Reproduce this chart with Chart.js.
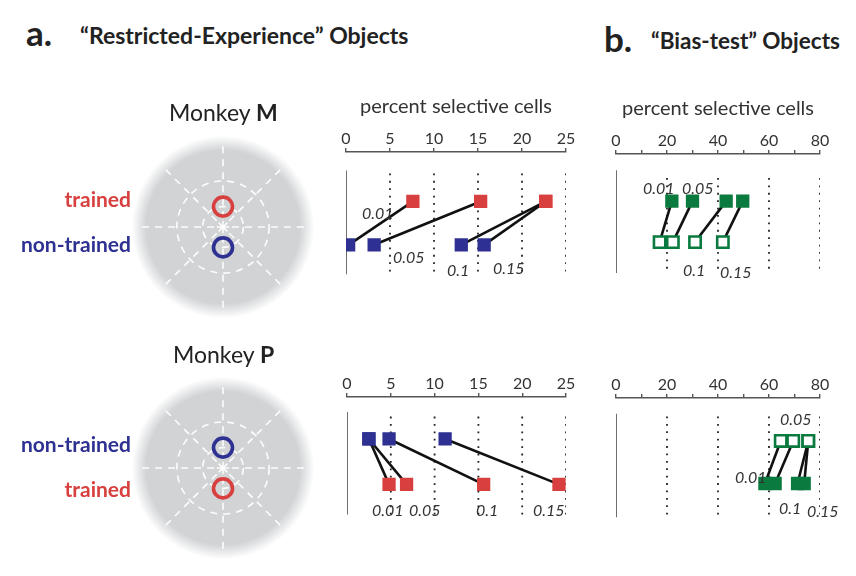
<!DOCTYPE html>
<html>
<head>
<meta charset="utf-8">
<title>Percent selective cells</title>
<script src="https://cdn.jsdelivr.net/npm/chart.js@4.4.1/dist/chart.umd.min.js"></script>
<style>
  body { margin: 0; width: 856px; height: 576px; position: relative; overflow: hidden; background: #fff; font-family: Lato, "Open Sans", sans-serif; color: #222; }
  canvas { position: absolute; }
  .t { position: absolute; white-space: nowrap; line-height: 1.2; transform: translateY(-50%); }
  .r { transform: translate(-100%, -50%); }
  .n { font-style: italic; font-size: 16px; color: #333; }
  .red { color: #d7403e; font-weight: 700; font-size: 21px; }
  .blue { color: #2e3192; font-weight: 700; font-size: 21px; }
</style>
</head>
<body>
<div class="t" style="left:26px;top:32px;font-size:35px;font-weight:700">a.</div>
<div class="t" style="left:80px;top:36px;font-size:23px;font-weight:700">“Restricted-Experience” Objects</div>
<div class="t" style="left:604px;top:38px;font-size:35px;font-weight:700">b.</div>
<div class="t" style="left:651px;top:40px;font-size:22.5px;font-weight:700">“Bias-test” Objects</div>
<div class="t" style="left:169px;top:113px;font-size:23px">Monkey <b>M</b></div>
<div class="t" style="left:173px;top:355px;font-size:23px">Monkey <b>P</b></div>
<div class="t r red" style="left:131px;top:199px">trained</div>
<div class="t r blue" style="left:131px;top:244px">non-trained</div>
<div class="t r blue" style="left:131px;top:444px">non-trained</div>
<div class="t r red" style="left:131px;top:489px">trained</div>
<script>
const thresholds = ["0.01", "0.05", "0.1", "0.15"];

// a. "Restricted-Experience" objects, percent selective cells per threshold
const ticksA = [0, 5, 10, 15, 20, 25];
const mTrained = [7.6, 15.3, 22.7, 22.7];
const mNonTrained = [0.3, 3.2, 13.1, 15.7];
const pTrained = [4.8, 6.8, 15.6, 24.2];
const pNonTrained = [2.5, 2.5, 4.8, 11.2];

// b. "Bias-test" objects (filled = trained, open = non-trained)
const ticksB = [0, 20, 40, 60, 80];
const mBiasTrained = [21.9, 30.0, 43.2, 49.7];
const mBiasNonTrained = [17.1, 22.3, 31.0, 41.9];
const pBiasTrained = [58.4, 62.4, 71.2, 73.8];
const pBiasNonTrained = [64.6, 69.5, 75.4, 75.4];

// object positions on the dial (trained, non-trained)
const ringsM = [0.23, -0.23];
const ringsP = [-0.23, 0.23];

const FONT = "Lato, 'Open Sans', sans-serif";
const RED = "#d7403e", BLUE = "#2e3192", GREEN = "#0a7a3e";

function guide(x, y0, y1, dotted) {
  return {
    type: "line", data: [{ x, y: y0 }, { x, y: y1 }],
    borderColor: dotted ? "#222" : "#6e6e6e", borderWidth: dotted ? 1.8 : 2,
    borderDash: dotted ? [1.8, 5.6] : [], pointRadius: 0, order: 3
  };
}

function pairChart(p) {
  const axisH = p.title ? 60 : 22, H = 140;
  const cv = document.createElement("canvas");
  cv.width = p.span + 40;
  cv.height = axisH + H;
  cv.style.left = (p.x0 - 20) + "px";
  cv.style.top = (p.axisY - axisH) + "px";
  document.body.appendChild(cv);

  const datasets = [];
  p.ticks.slice(1).forEach(t => datasets.push(guide(t, p.guide[1], p.guide[2], true)));
  datasets.push(guide(0, p.guide[0], p.guide[2], false));
  thresholds.forEach((th, i) => datasets.push({
    type: "line", data: [{ x: p.top.values[i], y: 1 }, { x: p.bottom.values[i], y: 2 }],
    borderColor: "#111", borderWidth: 2.6, pointRadius: 0, order: 2
  }));
  [p.top, p.bottom].forEach((r, k) => datasets.push({
    type: "scatter", data: r.values.map(v => ({ x: v, y: k + 1 })),
    pointStyle: "rect", pointRadius: r.open ? 8 : 9.4,
    borderWidth: r.open ? 2.6 : 0, borderColor: r.color,
    backgroundColor: r.open ? "#fff" : r.color, order: 1
  }));

  new Chart(cv, {
    type: "scatter",
    data: { datasets },
    options: {
      responsive: false, animation: false, events: [],
      layout: { padding: { left: 20, right: 20, top: 0, bottom: 0 } },
      plugins: { legend: { display: false }, tooltip: { enabled: false } },
      scales: {
        x: {
          type: "linear", position: "top", min: 0, max: p.max,
          afterFit: s => { s.height = axisH; },
          ticks: {
            stepSize: p.step, autoSkip: false, maxRotation: 0, padding: 0,
            color: "#333", font: { family: FONT, size: 16 },
            callback: v => p.ticks.includes(v) ? v : ""
          },
          grid: { drawOnChartArea: false, drawTicks: true, tickLength: 4, color: "#555", lineWidth: 1.4 },
          border: { display: true, color: "#555", width: 1.4 },
          title: {
            display: !!p.title, text: p.title || "", color: "#333",
            font: { family: FONT, size: 20 }, padding: { top: 3, bottom: 0 }
          }
        },
        y: { type: "linear", display: false, reverse: true, min: p.yMin, max: p.yMax }
      }
    }
  });

  p.labelPos.forEach((pos, i) => {
    const d = document.createElement("div");
    d.className = "t n";
    d.style.left = pos[0] + "px";
    d.style.top = pos[1] + "px";
    d.textContent = thresholds[i];
    document.body.appendChild(d);
  });
}

const dialPlugin = {
  id: "dial",
  beforeDatasetsDraw(chart) {
    const { ctx, scales: { x, y } } = chart;
    const cx = x.getPixelForValue(0), cy = y.getPixelForValue(0);
    const u = x.getPixelForValue(1) - cx;
    ctx.save();
    const g = ctx.createRadialGradient(cx, cy, 0, cx, cy, u * 1.03);
    g.addColorStop(0, "#d1d3d5");
    g.addColorStop(0.84, "#d1d3d5");
    g.addColorStop(1, "rgba(209,211,213,0)");
    ctx.fillStyle = g;
    ctx.beginPath(); ctx.arc(cx, cy, u * 1.03, 0, 2 * Math.PI); ctx.fill();
    ctx.strokeStyle = "rgba(255,255,255,0.95)";
    ctx.lineWidth = 1.6;
    ctx.setLineDash([7, 6]);
    [0.23, 0.52].forEach(r => { ctx.beginPath(); ctx.arc(cx, cy, r * u, 0, 2 * Math.PI); ctx.stroke(); });
    for (let k = 0; k < 8; k++) {
      const a = k * Math.PI / 4;
      ctx.beginPath();
      ctx.moveTo(cx + Math.cos(a) * 0.1 * u, cy + Math.sin(a) * 0.1 * u);
      ctx.lineTo(cx + Math.cos(a) * 0.98 * u, cy + Math.sin(a) * 0.98 * u);
      ctx.stroke();
    }
    ctx.setLineDash([]);
    ctx.lineWidth = 1.5;
    for (let k = 0; k < 4; k++) {
      const a = k * Math.PI / 4;
      ctx.beginPath();
      ctx.moveTo(cx - Math.cos(a) * 0.07 * u, cy - Math.sin(a) * 0.07 * u);
      ctx.lineTo(cx + Math.cos(a) * 0.07 * u, cy + Math.sin(a) * 0.07 * u);
      ctx.stroke();
    }
    ctx.restore();
  }
};

function dialChart(cx, cy, rings) {
  const cv = document.createElement("canvas");
  cv.width = 230; cv.height = 230;
  cv.style.left = (cx - 115) + "px";
  cv.style.top = (cy - 115) + "px";
  document.body.insertBefore(cv, document.body.firstChild);
  new Chart(cv, {
    type: "scatter",
    data: {
      datasets: [{
        data: rings.map(v => ({ x: 0, y: v })),
        pointStyle: "circle", pointRadius: 9.5, borderWidth: 3.6,
        borderColor: [RED, BLUE], backgroundColor: "rgba(0,0,0,0)"
      }]
    },
    options: {
      responsive: false, animation: false, events: [],
      layout: { padding: 0 },
      plugins: { legend: { display: false }, tooltip: { enabled: false } },
      scales: {
        x: { display: false, min: -1.15, max: 1.15 },
        y: { display: false, min: -1.15, max: 1.15 }
      }
    },
    plugins: [dialPlugin]
  });
}

dialChart(223, 227, ringsM);
dialChart(223, 468, ringsP);

pairChart({
  x0: 346, span: 220, axisY: 152, max: 25, step: 5, ticks: ticksA,
  title: "percent selective cells", yMin: -0.14, yMax: 2.871, guide: [0.284, 0.355, 2.677],
  top: { values: mTrained, color: RED }, bottom: { values: mNonTrained, color: BLUE },
  labelPos: [[362, 213], [393, 257], [447, 270], [493, 268]]
});
pairChart({
  x0: 616, span: 204, axisY: 154, max: 80, step: 10, ticks: ticksB,
  title: "percent selective cells", yMin: -0.151, yMax: 3.009, guide: [0.248, 0.436, 2.754],
  top: { values: mBiasTrained, color: GREEN }, bottom: { values: mBiasNonTrained, color: GREEN, open: true },
  labelPos: [[643, 188], [682, 188], [683, 270], [720, 272]]
});
pairChart({
  x0: 346.5, span: 219.5, axisY: 397, max: 25, step: 5, ticks: ticksA,
  yMin: 0.076, yMax: 2.951, guide: [0.404, 0.507, 2.663],
  top: { values: pNonTrained, color: BLUE }, bottom: { values: pTrained, color: RED },
  labelPos: [[372, 510], [409, 510], [476, 510], [533, 510]]
});
pairChart({
  x0: 616, span: 204, axisY: 398, max: 80, step: 10, ticks: ticksB,
  yMin: -0.011, yMax: 3.033, guide: [0.359, 0.424, 2.793],
  top: { values: pBiasNonTrained, color: GREEN, open: true }, bottom: { values: pBiasTrained, color: GREEN },
  labelPos: [[735, 477], [780, 419], [779, 508], [807, 511]]
});
</script>
</body>
</html>
